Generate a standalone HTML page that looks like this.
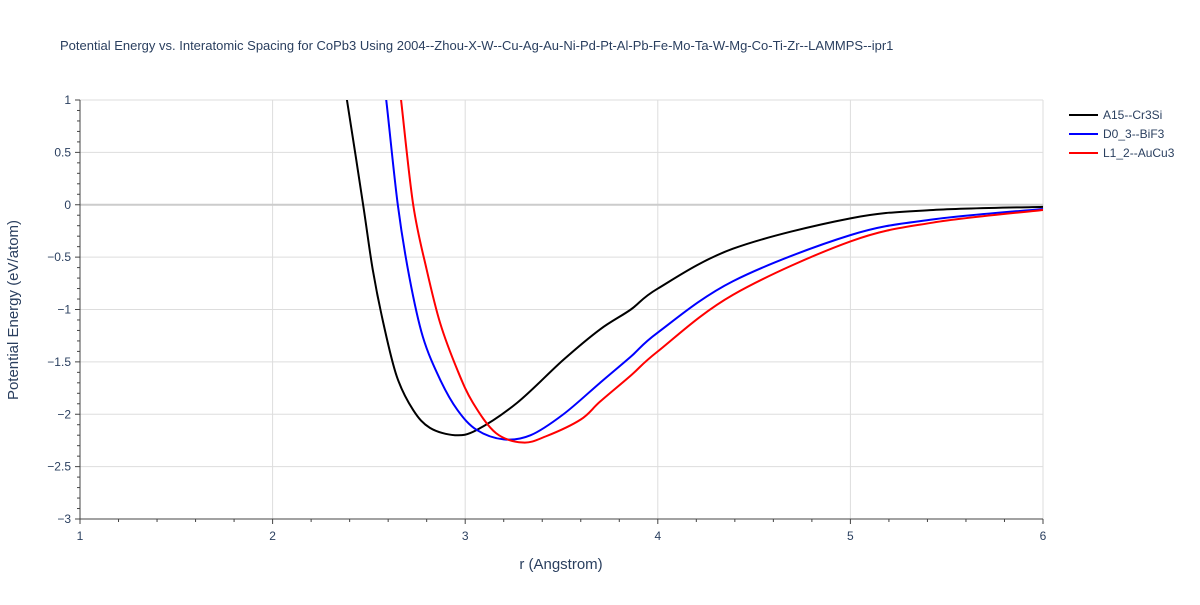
<!DOCTYPE html>
<html><head><meta charset="utf-8"><style>
body{margin:0;background:#fff;font-family:"Liberation Sans",sans-serif;}
svg text{font-family:"Liberation Sans",sans-serif;}
</style></head><body>
<svg id="chart" width="1200" height="600" xmlns="http://www.w3.org/2000/svg">
<text x="60" y="50" font-size="13" fill="#2a3f5f">Potential Energy vs. Interatomic Spacing for CoPb3 Using 2004--Zhou-X-W--Cu-Ag-Au-Ni-Pd-Pt-Al-Pb-Fe-Mo-Ta-W-Mg-Co-Ti-Zr--LAMMPS--ipr1</text>
<g id="grid"></g>
<g id="axes"></g>
<g id="series"></g>
<text x="561" y="569" font-size="15" fill="#2a3f5f" text-anchor="middle">r (Angstrom)</text>
<text transform="translate(18,310) rotate(-90)" font-size="15" fill="#2a3f5f" text-anchor="middle">Potential Energy (eV/atom)</text>
<g id="legend"></g>
</svg>
<script>
const xTicks=[1,2,3,4,5,6];
const yTicks=[1,0.5,0,-0.5,-1,-1.5,-2,-2.5,-3];
const yTickLabels=["1","0.5","0","−0.5","−1","−1.5","−2","−2.5","−3"];
const seriesNames=["A15--Cr3Si","D0_3--BiF3","L1_2--AuCu3"];
const seriesColors=["#000000","#0000ff","#ff0000"];
const rA15=[2.36,2.386,2.47,2.52,2.575,2.645,2.73,2.817,2.947,3.06,3.27,3.51,3.70,3.86,4.0,4.39,5.0,5.43,6.0];
const eA15=[1.25,1.0,0.0,-0.62,-1.13,-1.64,-1.96,-2.13,-2.20,-2.15,-1.89,-1.48,-1.19,-1.0,-0.80,-0.42,-0.13,-0.05,-0.02];
const rD03=[2.57,2.59,2.65,2.71,2.78,2.87,2.96,3.06,3.20,3.34,3.51,3.70,3.86,4.0,4.39,5.0,5.43,6.0];
const eD03=[1.25,1.0,0.0,-0.69,-1.26,-1.67,-1.96,-2.15,-2.24,-2.20,-2.00,-1.70,-1.45,-1.22,-0.73,-0.29,-0.14,-0.04];
const rL12=[2.65,2.667,2.73,2.80,2.87,2.96,3.04,3.16,3.30,3.42,3.60,3.70,3.86,4.0,4.39,5.0,5.43,6.0];
const eL12=[1.25,1.0,0.0,-0.62,-1.13,-1.58,-1.89,-2.18,-2.27,-2.21,-2.05,-1.88,-1.63,-1.40,-0.86,-0.35,-0.17,-0.05];
const X0=80,X1=1043,Y0=100,Y1=519;
const xs=r=>X0+(r-1)/5*(X1-X0);
const ys=e=>Y0+(1-e)/4*(Y1-Y0);
const NS="http://www.w3.org/2000/svg";
function mk(t,a,p){const e=document.createElementNS(NS,t);for(const k in a)e.setAttribute(k,a[k]);p.appendChild(e);return e;}
const svg=document.getElementById('chart');
const defs=mk('defs',{},svg);const cp=mk('clipPath',{id:'clip'},defs);mk('rect',{x:X0,y:Y0,width:X1-X0,height:Y1-Y0},cp);
const grid=document.getElementById('grid'),axes=document.getElementById('axes');
xTicks.forEach(t=>{if(t>1){const l=mk('line',{x1:xs(t),x2:xs(t),y1:Y0,y2:Y1,stroke:'#ddd'},grid);

}
const tx=mk('text',{x:xs(t),y:Y1+21,'font-size':12,fill:'#2a3f5f','text-anchor':'middle'},axes);tx.textContent=t;

});
yTicks.forEach((t,i)=>{const l=mk('line',{x1:X0,x2:X1,y1:ys(t),y2:ys(t),stroke:t===0?'#ccc':'#ddd','stroke-width':t===0?2:1},grid);


const tx=mk('text',{x:X0-9,y:ys(t)+4,'font-size':12,fill:'#2a3f5f','text-anchor':'end'},axes);tx.textContent=yTickLabels[i];

});
for(let v=1;v<=6.001;v+=0.2){mk('line',{x1:xs(v),x2:xs(v),y1:Y1,y2:Y1+(Math.abs(v-Math.round(v))<0.01?5:3),stroke:'#444'},axes);}
for(let v=-3;v<=1.001;v+=0.1){mk('line',{x1:X0,x2:X0-(Math.abs(v*2-Math.round(v*2))<0.01?5:3),y1:ys(v),y2:ys(v),stroke:'#444'},axes);}
mk('line',{x1:X0,x2:X1,y1:Y1,y2:Y1,stroke:'#444'},axes);
mk('line',{x1:X0,x2:X0,y1:Y0,y2:Y1,stroke:'#444'},axes);
function path(rs,es){const p=rs.map((r,i)=>[xs(r),ys(es[i])]);let d='M'+p[0][0]+','+p[0][1];
for(let i=0;i<p.length-1;i++){const a=p[Math.max(0,i-1)],b=p[i],c=p[i+1],e=p[Math.min(p.length-1,i+2)];
d+=` C${b[0]+(c[0]-a[0])/6},${b[1]+(c[1]-a[1])/6} ${c[0]-(e[0]-b[0])/6},${c[1]-(e[1]-b[1])/6} ${c[0]},${c[1]}`;}return d;}
const ser=document.getElementById('series');
[[rA15,eA15],[rD03,eD03],[rL12,eL12]].forEach((s,i)=>{const p=mk('path',{d:path(s[0],s[1]),fill:'none',stroke:seriesColors[i],'stroke-width':2,'clip-path':'url(#clip)'},ser);

});
const lg=document.getElementById('legend');
seriesNames.forEach((n,i)=>{const g=mk('g',{},lg);


const y=115+i*19;mk('line',{x1:1069,x2:1098,y1:y,y2:y,stroke:seriesColors[i],'stroke-width':2},g);
const t=mk('text',{x:1103,y:y+4,'font-size':12,fill:'#2a3f5f'},g);t.textContent=n;});
</script>
</body></html>
